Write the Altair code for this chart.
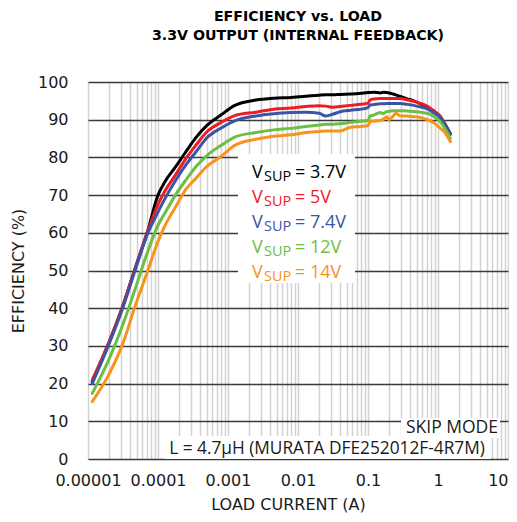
import json
import altair as alt
import pandas as pd

# ---------------- data ----------------
current = [1.15e-5, 2e-5, 3.2e-5, 4.7e-5, 7e-5, 1e-4, 1.25e-4, 1.8e-4, 2.5e-4, 3.5e-4,
           5e-4, 8e-4, 1.25e-3, 2.5e-3, 4.5e-3, 8e-3, 0.013, 0.02, 0.025, 0.032,
           0.04, 0.056, 0.08, 0.1, 0.107, 0.12, 0.15, 0.165, 0.185, 0.2,
           0.23, 0.25, 0.29, 0.355, 0.45, 0.55, 0.7, 0.85, 1.07, 1.3, 1.5]

eff_3v7 = [20.5, 31.0, 41.0, 50.5, 60.0, 70.0, 73.5, 77.6, 81.5, 85.3,
           88.5, 91.3, 93.8, 95.2, 95.7, 95.9, 96.2, 96.5, 96.6, 96.6,
           96.7, 96.8, 97.0, 97.2, 97.2, 97.3, 97.1, 97.3, 97.2, 97.1,
           96.8, 96.6, 96.2, 95.6, 95.0, 94.3, 93.3, 92.1, 90.8, 88.3, 86.3]

eff_5v = [21.0, 31.0, 41.0, 50.5, 60.0, 67.5, 71.0, 75.5, 79.7, 83.3,
          86.8, 89.3, 91.1, 92.0, 92.8, 93.1, 93.5, 93.7, 93.6, 93.3,
          93.5, 93.8, 94.1, 94.4, 95.2, 95.5, 95.6, 95.6, 95.6, 95.6,
          95.6, 95.6, 95.6, 95.3, 94.9, 94.4, 93.6, 92.5, 91.0, 88.3, 86.2]

eff_7v4 = [20.0, 30.5, 40.5, 50.0, 59.5, 65.5, 69.0, 74.0, 78.0, 81.5,
           85.2, 87.8, 89.7, 91.0, 91.6, 91.9, 92.0, 91.7, 91.0, 91.5,
           92.1, 92.5, 92.8, 93.2, 93.9, 94.0, 94.2, 94.2, 94.3, 94.3,
           94.3, 94.3, 94.3, 94.1, 93.8, 93.4, 92.9, 92.0, 90.6, 88.3, 86.1]

eff_12v = [17.4, 26.5, 36.0, 45.0, 54.6, 62.0, 65.2, 70.2, 74.0, 77.6,
           80.5, 83.2, 85.4, 86.6, 87.3, 87.7, 88.2, 88.6, 88.8, 88.8,
           88.9, 89.3, 89.6, 89.7, 91.0, 91.2, 91.9, 91.6, 92.2, 92.2,
           92.4, 92.4, 92.4, 92.3, 92.2, 92.0, 91.7, 91.0, 89.5, 87.2, 85.0]

eff_14v = [15.2, 22.5, 31.0, 40.5, 49.5, 57.7, 61.8, 67.0, 71.5, 74.5,
           77.6, 80.3, 83.2, 84.8, 85.6, 86.0, 86.6, 86.9, 87.0, 87.0,
           87.0, 88.0, 88.2, 88.4, 89.5, 89.6, 89.8, 90.1, 90.8, 90.0,
           91.0, 91.7, 91.0, 91.0, 90.8, 90.6, 90.0, 89.3, 87.8, 86.2, 84.2]

series_names = ["3.7V", "5V", "7.4V", "12V", "14V"]
series_values = [eff_3v7, eff_5v, eff_7v4, eff_12v, eff_14v]
series_colors = ["#000000", "#ED1C24", "#3B54A4", "#6DBE45", "#F7941D"]

x_tick_labels = ["0.00001", "0.0001", "0.001", "0.01", "0.1", "1", "10"]
y_ticks = [0, 10, 20, 30, 40, 50, 60, 70, 80, 90, 100]

title_lines = ["EFFICIENCY vs. LOAD", "3.3V OUTPUT (INTERNAL FEEDBACK)"]
x_title = "LOAD CURRENT (A)"
y_title = "EFFICIENCY (%)"
note_skip = "SKIP MODE"
note_inductor = "L = 4.7\u00b5H (MURATA DFE252012F-4R7M)"

# ---------------- build tables ----------------
rows = []
for name, vals in zip(series_names, series_values):
    for c, v in zip(current, vals):
        rows.append({"series": name, "current": c, "eff": v})
df = pd.DataFrame(rows)

leg = pd.DataFrame({"series": series_names, "i": list(range(len(series_names)))})
leg["rest"] = ["= " + s for s in series_names]

FONT = "Open Sans"
AXFONT = "DejaVu Sans"
W, H = 420, 377

# gridline positions (1..9 x each decade)
grid_vals = []
for d in range(-5, 1):
    for m in range(1, 10):
        grid_vals.append(float(f"{m}e{d}"))
grid_vals.append(10.0)

label_expr = (
    "abs(log(datum.value)/LN10 - round(log(datum.value)/LN10)) < 0.001 ? "
    + json.dumps(x_tick_labels)
    + "[round(log(datum.value)/LN10) + 5] : ''"
)

color_scale = alt.Scale(domain=series_names, range=series_colors)
xs = alt.Scale(type="log", domain=[1e-5, 10], nice=False)
ys = alt.Scale(domain=[0, 100], nice=False, zero=False)

base = alt.Chart(df)

lines = base.mark_line(strokeWidth=3, strokeJoin="round", strokeCap="round",
                       interpolate="monotone").encode(
    x=alt.X("current:Q", scale=xs,
            axis=alt.Axis(values=grid_vals, labelExpr=label_expr, grid=True,
                          gridColor="#d2d2d2", gridWidth=1.5, ticks=False, tickSize=0,
                          domain=False, labelOverlap=False, labelFlush=False,
                          labelBound=False, labelFontSize=16, labelFont=AXFONT,
                          labelColor="#1a1a1a", labelPadding=13,
                          labelAlign={"condition": {"test": "datum.value > 5", "value": "right"},
                                      "value": "center"},
                          title=x_title, titleFont=AXFONT, titleFontSize=16,
                          titleFontWeight="normal", titleColor="#1a1a1a",
                          titleX=200, titleY=50, titleAlign="center",
                          titleBaseline="alphabetic")),
    y=alt.Y("eff:Q", scale=ys,
            axis=alt.Axis(values=y_ticks, grid=True, gridColor="#3a3a3a", gridWidth=1.5,
                          ticks=False, tickSize=0, domain=False, labelFontSize=16,
                          labelFont=AXFONT, labelColor="#1a1a1a", labelPadding=20,
                          title=y_title, titleFont=AXFONT, titleFontSize=16,
                          titleFontWeight="normal", titleColor="#1a1a1a",
                          titleX=-70, titleY=H / 2, titleAngle=-90,
                          titleAlign="center", titleBaseline="middle")),
    color=alt.Color("series:N", scale=color_scale, legend=None),
    order=alt.Order("current:Q"),
)

one = pd.DataFrame({"a": [0]})

legend_box = alt.Chart(one).mark_rect(fill="white").encode(
    x=alt.value(150), x2=alt.value(267), y=alt.value(72), y2=alt.value(201))
skip_box = alt.Chart(one).mark_rect(fill="white").encode(
    x=alt.value(313), x2=alt.value(412), y=alt.value(336), y2=alt.value(356))
ind_box = alt.Chart(one).mark_rect(fill="white").encode(
    x=alt.value(77), x2=alt.value(402), y=alt.value(354), y2=alt.value(377))

skip_txt = alt.Chart(one).mark_text(text=note_skip, font=FONT, fontSize=17.5, align="right",
                                    baseline="alphabetic", color="#1a1a1a").encode(
    x=alt.value(410), y=alt.value(350.5))
ind_txt = alt.Chart(one).mark_text(text=note_inductor, font=FONT, fontSize=17.3, align="center",
                                   baseline="alphabetic", color="#1a1a1a").encode(
    x=alt.value(239), y=alt.value(371.5))

legbase = alt.Chart(leg).transform_calculate(ypix="96 + 25 * datum.i")
leg_v = legbase.mark_text(text="V", font=FONT, fontSize=18, align="left",
                          baseline="alphabetic").encode(
    x=alt.value(164), y=alt.Y("ypix:Q", scale=None),
    color=alt.Color("series:N", scale=color_scale, legend=None))
leg_sub = legbase.mark_text(text="SUP", font=FONT, fontSize=14.5, align="left",
                            baseline="alphabetic", dx=12, dy=3).encode(
    x=alt.value(164), y=alt.Y("ypix:Q", scale=None),
    color=alt.Color("series:N", scale=color_scale, legend=None))
leg_rest = legbase.mark_text(font=FONT, fontSize=18, align="left",
                             baseline="alphabetic", dx=43).encode(
    x=alt.value(164), y=alt.Y("ypix:Q", scale=None), text="rest:N",
    color=alt.Color("series:N", scale=color_scale, legend=None))

chart = alt.layer(
    lines, legend_box, skip_box, ind_box, skip_txt, ind_txt, leg_v, leg_sub, leg_rest
).properties(
    width=W, height=H,
    padding={"left": 80, "top": 74, "right": 1, "bottom": 54},
    autosize=alt.AutoSizeParams(type="none"),
    title=alt.TitleParams(text=title_lines, font=AXFONT, fontSize=14.2, fontWeight="bold",
                          color="#000000", anchor="middle", lineHeight=18.5,
                          baseline="alphabetic", offset=0, dy=-20),
).configure_view(
    stroke="#000000", strokeWidth=3.5
).configure(background="white")

chart.save("out.html", embed_options={"renderer": "svg", "actions": False})
